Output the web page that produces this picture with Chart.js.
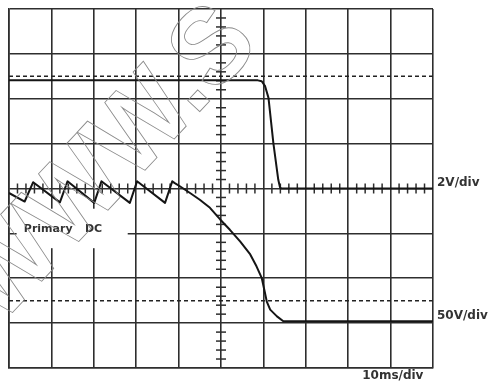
<!DOCTYPE html>
<html>
<head>
<meta charset="utf-8">
<script src="https://cdn.jsdelivr.net/npm/chart.js@4/dist/chart.umd.min.js"></script>
<style>
html,body{margin:0;padding:0;background:#fff;}
#c{display:block;}
</style>
</head>
<body>
<canvas id="c" width="489" height="383"></canvas>
<script>
// Values in screen divisions (x: 10 div, y: 8 div)
const topTraceX = [0, 5.87, 5.96, 6.04, 6.12, 6.235, 6.35, 6.39, 6.42, 10];
const topTraceY = [6.41, 6.41, 6.39, 6.28, 6.02, 5.01, 4.20, 4.03, 4.0, 4.0];

const primaryX = [0, 0.37, 0.57, 1.20, 1.38, 2.01, 2.18, 2.85, 3.02, 3.68, 3.85, 3.91, 4.03, 4.27, 4.50, 4.74, 4.98, 5.21, 5.45, 5.69, 5.84, 5.96, 6.02, 6.08, 6.16, 6.32, 6.47, 6.87, 10];
const primaryY = [3.90, 3.71, 4.14, 3.69, 4.16, 3.68, 4.16, 3.68, 4.16, 3.68, 4.16, 4.12, 4.05, 3.90, 3.75, 3.57, 3.31, 3.08, 2.82, 2.53, 2.26, 2.01, 1.75, 1.48, 1.30, 1.15, 1.04, 1.04, 1.04];

const dashedLevels = [6.5, 1.5];
const axisMinorX = [0.2,0.4,0.6,0.8,1.2,1.4,1.6,1.8,2.2,2.4,2.6,2.8,3.2,3.4,3.6,3.8,4.2,4.4,4.6,4.8,5.2,5.4,5.6,5.8,6.2,6.4,6.6,6.8,7.2,7.4,7.6,7.8,8.2,8.4,8.6,8.8,9.2,9.4,9.6,9.8];
const axisMinorY = [0.2,0.4,0.6,0.8,1.2,1.4,1.6,1.8,2.2,2.4,2.6,2.8,3.2,3.4,3.6,3.8,4.2,4.4,4.6,4.8,5.2,5.4,5.6,5.8,6.2,6.4,6.6,6.8,7.2,7.4,7.6,7.8];
const centerX = 5, centerY = 4;

const labelVert1 = '2V/div';
const labelVert2 = '50V/div';
const labelTime = '10ms/div';
const labelTrace = ['Primary', 'DC'];
const watermark = 'WWW.S';

const zip = (xs, ys) => xs.map((x, i) => ({x, y: ys[i]}));
const INK = '#151515';
const GRID = '#2e2e2e';

const annot = {
  id: 'annot',
  beforeDatasetsDraw(chart) {
    const {ctx, scales:{x, y}} = chart;
    // white patch behind "Primary DC"
    ctx.save();
    ctx.fillStyle = '#fff';
    const x0 = x.getPixelForValue(0.18), x1 = x.getPixelForValue(2.8);
    const y0 = y.getPixelForValue(3.55), y1 = y.getPixelForValue(2.67);
    ctx.fillRect(x0, y0, x1 - x0, y1 - y0);
    ctx.restore();
  },
  afterDraw(chart) {
    const {ctx, chartArea, scales:{x, y}} = chart;
    ctx.save();
    ctx.fillStyle = '#333';
    ctx.font = 'bold 12px "DejaVu Sans"';
    ctx.textBaseline = 'middle';
    ctx.textAlign = 'left';
    ctx.fillText(labelVert1, chartArea.right + 4, y.getPixelForValue(4.13));
    ctx.fillText(labelVert2, chartArea.right + 4, y.getPixelForValue(1.16));
    ctx.fillText(labelTime, x.getPixelForValue(8.33), chartArea.bottom + 8);
    ctx.font = 'bold 11px "DejaVu Sans"';
    ctx.fillText(labelTrace[0], x.getPixelForValue(0.35), y.getPixelForValue(3.1));
    ctx.fillText(labelTrace[1], x.getPixelForValue(1.79), y.getPixelForValue(3.1));
    // outlined watermark
    ctx.translate(0, 326);
    ctx.rotate(-47 * Math.PI / 180);
    ctx.scale(1.03, 1.1);
    ctx.font = 'bold 100px "Liberation Sans"';
    ctx.textBaseline = 'alphabetic';
    ctx.strokeStyle = '#8a8a8a';
    ctx.lineWidth = 0.8;
    ctx.strokeText(watermark, 0, 0);
    ctx.restore();
  }
};

new Chart(document.getElementById('c'), {
  type: 'line',
  data: {
    datasets: [
      { data: zip(topTraceX, topTraceY), borderColor: INK, borderWidth: 2, pointRadius: 0, tension: 0, borderJoinStyle: 'round' },
      { data: zip(primaryX, primaryY), borderColor: INK, borderWidth: 2, pointRadius: 0, tension: 0, borderJoinStyle: 'round' },
      { data: [{x:0, y:dashedLevels[0]}, {x:10, y:dashedLevels[0]}], borderColor: '#222', borderWidth: 1.6, borderDash: [4,3], pointRadius: 0 },
      { data: [{x:0, y:dashedLevels[1]}, {x:10, y:dashedLevels[1]}], borderColor: '#222', borderWidth: 1.6, borderDash: [4,3], pointRadius: 0 },
      { data: axisMinorX.map(v => ({x: v, y: centerY})), showLine: false, pointStyle: 'line', pointRadius: 5, pointBorderWidth: 1.5, pointRotation: 90, borderColor: GRID, pointBorderColor: GRID },
      { data: axisMinorY.map(v => ({x: centerX, y: v})), showLine: false, pointStyle: 'line', pointRadius: 5, pointBorderWidth: 1.5, pointRotation: 0, borderColor: GRID, pointBorderColor: GRID }
    ]
  },
  options: {
    responsive: false,
    animation: false,
    events: [],
    layout: { padding: { left: 9, top: 9, right: 56, bottom: 15 } },
    plugins: { legend: { display: false }, tooltip: { enabled: false } },
    scales: {
      x: { type: 'linear', min: 0, max: 10, ticks: { display: false, stepSize: 1 },
           grid: { color: GRID, lineWidth: 1.6, drawTicks: false }, border: { display: true, color: GRID, width: 1.6 } },
      y: { type: 'linear', min: 0, max: 8, ticks: { display: false, stepSize: 1 },
           grid: { color: GRID, lineWidth: 1.6, drawTicks: false }, border: { display: true, color: GRID, width: 1.6 } }
    }
  },
  plugins: [annot]
});
</script>
</body>
</html>
